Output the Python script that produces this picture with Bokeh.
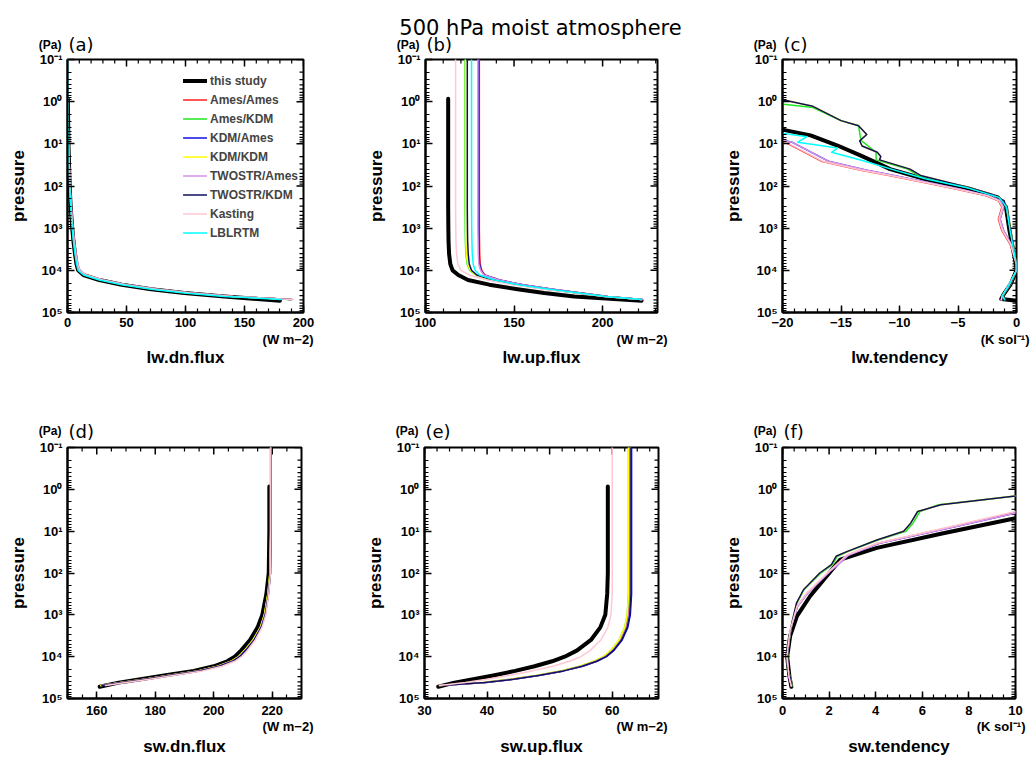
from bokeh.plotting import figure
from bokeh.layouts import column, row
from bokeh.models import (Range1d, FixedTicker, SingleIntervalTicker, Label, Legend, LegendItem)
from bokeh.embed import file_html
from bokeh.resources import INLINE

TITLE = "500 hPa moist atmosphere"
SERIES = ["this study", "Ames/Ames", "Ames/KDM", "KDM/Ames", "KDM/KDM",
          "TWOSTR/Ames", "TWOSTR/KDM", "Kasting", "LBLRTM"]
COLORS = ["#000000", "#ff2020", "#22e622", "#1010e0", "#ffff00",
          "#d890e8", "#101060", "#ffc8d2", "#00ffff"]
WIDTHS = [4.0, 1.5, 1.5, 1.5, 1.5, 1.5, 1.5, 1.5, 1.5]

Y_TICKS = [0.1, 1, 10, 100, 1000, 10000, 100000]
Y_TICK_LABELS = ["10\u207b\u00b9", "10\u2070", "10\u00b9", "10\u00b2", "10\u00b3", "10\u2074", "10\u2075"]

# log10 pressure (Pa) grids
LP_FLUX = [-1, 0, 1, 2, 2.5, 3, 3.3, 3.6, 3.85, 4.0, 4.11, 4.23, 4.34, 4.45, 4.54, 4.62, 4.69]
LP_FLUX_THIS = [-0.07, 1, 2, 2.5, 3, 3.3, 3.6, 3.85, 4.0, 4.11, 4.23, 4.34, 4.45, 4.54, 4.62, 4.72]

# (a) lw.dn.flux (W m-2)
LWDN_THIS = [0.3, 0.8, 1.8, 2.7, 4.0, 5.0, 6.3, 7.6, 9.0, 13.5, 27, 46, 71, 99, 133, 180]
LWDN_AA = [0.1, 0.3, 0.9, 2.0, 3.0, 4.3, 5.4, 6.8, 8.3, 10.0, 15.5, 29.5, 49, 75, 104, 140, 190]
LWDN_AK = [0.1, 0.3, 0.9, 2.0, 2.9, 4.2, 5.3, 6.7, 8.2, 9.8, 15.2, 29, 48.5, 74.5, 103.5, 139.5, 189]
LWDN_KA = [0.1, 0.3, 0.9, 2.0, 3.0, 4.3, 5.4, 6.8, 8.3, 10.0, 15.4, 29.3, 48.8, 74.8, 103.8, 139.8, 189.5]
LWDN_KK = [0.1, 0.3, 0.9, 2.0, 2.9, 4.2, 5.3, 6.7, 8.2, 9.8, 15.1, 28.9, 48.4, 74.4, 103.4, 139.4, 189]
LWDN_TA = [0.1, 0.3, 1.0, 2.2, 3.2, 4.6, 5.7, 7.2, 8.8, 10.5, 16, 30, 50, 76, 105, 141, 191]
LWDN_TK = [0.1, 0.3, 0.9, 2.0, 2.9, 4.2, 5.3, 6.7, 8.2, 9.8, 15.2, 29, 48.5, 74.5, 103.5, 139.5, 189]
LWDN_KAS = [0.1, 0.3, 0.9, 2.1, 3.1, 4.4, 5.5, 6.9, 8.4, 10.2, 15.8, 29.8, 49.5, 75.5, 104.5, 140.5, 190]
LWDN_LBL = [0.1, 0.3, 0.8, 1.8, 2.7, 4.0, 5.0, 6.3, 7.6, 9.0, 13.5, 27, 46, 71, 99, 133, 181]

# (b) lw.up.flux (W m-2)
LWUP_THIS = [112.8, 112.8, 112.8, 112.8, 112.9, 113.0, 113.3, 114.0, 115.3, 118.5, 124, 136, 152, 167, 184, 222]
LWUP_AA = [130.4, 130.4, 130.4, 130.4, 130.4, 130.4, 130.5, 130.6, 130.9, 131.8, 133.5, 142, 155, 172, 188, 203, 222.5]
LWUP_AK = [122.3, 122.3, 122.3, 122.3, 122.3, 122.4, 122.5, 122.8, 123.5, 125.0, 128.2, 137.5, 151, 168.8, 185.8, 201.3, 222]
LWUP_KA = [130.0, 130.0, 130.0, 130.0, 130.0, 130.0, 130.1, 130.2, 130.5, 131.4, 133.2, 141.8, 154.8, 171.8, 187.8, 202.8, 222.5]
LWUP_KK = [122.6, 122.6, 122.6, 122.6, 122.6, 122.7, 122.8, 123.1, 123.8, 125.3, 128.4, 137.6, 151.1, 168.9, 185.9, 201.4, 222]
LWUP_TA = [129.6, 129.6, 129.6, 129.6, 129.6, 129.6, 129.7, 129.8, 130.1, 131.1, 133.0, 141.6, 154.6, 171.6, 187.6, 202.6, 222.5]
LWUP_TK = [123.6, 123.6, 123.6, 123.6, 123.6, 123.7, 123.8, 124.1, 124.7, 126.0, 129.0, 138, 151.5, 169, 186, 201.5, 222]
LWUP_KAS = [117.0, 117.0, 117.0, 117.0, 117.0, 117.1, 117.2, 117.5, 118.3, 120.0, 124.5, 135, 149, 167, 185, 201, 222]
LWUP_LBL = [126.0, 126.0, 126.0, 126.0, 126.0, 126.1, 126.2, 126.4, 126.9, 128.0, 130.5, 139, 152.5, 170, 186.5, 202, 222]

# (c) lw.tendency (K sol-1)
LP_LWT_THIS = [-0.07, 0.55, 0.68, 0.8, 1.04, 1.28, 1.47, 1.6, 1.83, 2.05, 2.27, 2.5, 3.06, 3.86, 4.0, 4.33, 4.57, 4.68, 4.72]
LWT_THIS = [-30, -22, -19.7, -17.6, -15.3, -13.3, -11.8, -10.8, -7.9, -4.2, -1.6, -0.9, -0.6, -0.05, 0, -0.5, -1.1, -1.3, 0]
LP_LWT_TK = [-0.2, -0.03, 0.11, 0.45, 0.57, 0.78, 0.93, 1.05, 1.2, 1.3, 1.38, 1.6, 1.75, 2.03, 2.19, 2.35, 2.59, 3.06, 3.86, 4.0, 4.33, 4.57, 4.69]
LWT_TK = [-25, -19.7, -17.4, -15.0, -13.5, -12.8, -13.4, -13.2, -11.9, -11.6, -11.7, -9.1, -8.2, -4.2, -2.2, -1.06, -0.8, -0.5, 0, 0, -0.5, -1.1, -1.2]
LWT_KK = [-25, -19.7, -17.4, -15.0, -13.5, -12.8, -13.4, -13.2, -11.9, -11.6, -11.7, -9.1, -8.2, -4.2, -2.2, -1.06, -0.8, -0.5, 0, 0, -0.5, -1.1, -1.2]
LP_LWT_AK = [-0.1, 0.07, 0.14, 0.45, 0.57, 0.92, 1.2, 1.38, 1.6, 1.75, 2.03, 2.19, 2.35, 2.59, 3.06, 3.86, 4.0, 4.33, 4.57, 4.69]
LWT_AK = [-25, -19.7, -17.4, -15.0, -13.5, -13.3, -12.0, -12.0, -9.3, -8.4, -4.3, -2.3, -1.1, -0.8, -0.5, 0, 0, -0.5, -1.1, -1.2]
LP_LWT_LOW = [0.7, 0.85, 0.96, 1.42, 1.62, 1.75, 1.91, 2.07, 2.23, 2.35, 2.5, 2.79, 3.06, 3.38, 3.86, 4.0, 4.33, 4.6, 4.7]
LWT_KAS = [-25, -21.5, -19.7, -16.5, -13.3, -10.8, -7.9, -5.1, -2.5, -1.5, -1.2, -1.5, -1.2, -0.5, 0, 0, -0.6, -1.2, -1.3]
LWT_AA = [-25, -21.6, -19.8, -16.6, -13.4, -10.9, -8.0, -5.2, -2.6, -1.55, -1.25, -1.55, -1.25, -0.55, 0, 0, -0.6, -1.2, -1.3]
LWT_TA = [-25, -21.0, -19.2, -16.0, -12.9, -10.5, -7.7, -4.9, -2.4, -1.4, -1.1, -1.4, -1.1, -0.45, 0, 0, -0.6, -1.2, -1.3]
LWT_KA = [-25, -21.0, -19.2, -16.0, -12.9, -10.5, -7.7, -4.9, -2.4, -1.4, -1.1, -1.4, -1.1, -0.45, 0, 0, -0.6, -1.2, -1.3]
LP_LWT_LBL = [0.5, 0.75, 0.83, 0.96, 1.1, 1.2, 1.4, 1.6, 1.83, 2.05, 2.27, 2.5, 3.06, 3.86, 4.0, 4.33, 4.6, 4.7]
LWT_LBL = [-25, -20, -17.9, -18.7, -15.3, -15.8, -13.1, -10.7, -7.8, -4.1, -1.5, -0.85, -0.55, 0, 0, -0.6, -1.2, -1.0]

# (d) sw.dn.flux (W m-2)
SWDN_THIS = [219.0, 219.0, 218.8, 218.0, 216.6, 215.0, 212.4, 209.4, 207.2, 204.6, 200.0, 193.2, 183.0, 175.0, 167.5, 161.0]
SWDN_AA = [219.5, 219.5, 219.5, 219.3, 218.6, 217.4, 216.0, 213.5, 210.6, 208.5, 206.0, 201.4, 194.6, 184.3, 176.3, 168.3, 161.5]
SWDN_AK = [219.4, 219.4, 219.4, 219.2, 218.5, 217.3, 215.9, 213.4, 210.5, 208.4, 205.9, 201.3, 194.5, 184.2, 176.2, 168.2, 161.4]
SWDN_KA = [219.6, 219.6, 219.6, 219.4, 218.7, 217.6, 216.2, 213.8, 210.9, 208.8, 206.4, 201.8, 195.0, 184.7, 176.7, 168.7, 161.8]
SWDN_KK = [219.4, 219.4, 219.4, 219.2, 218.5, 217.3, 215.9, 213.4, 210.5, 208.4, 205.9, 201.3, 194.5, 184.2, 176.2, 168.2, 161.4]
SWDN_TA = [219.5, 219.5, 219.5, 219.3, 218.7, 217.5, 216.1, 213.7, 210.8, 208.7, 206.2, 201.6, 194.8, 184.5, 176.5, 168.5, 161.6]
SWDN_TK = [219.6, 219.6, 219.6, 219.4, 218.7, 217.6, 216.2, 213.8, 210.9, 208.8, 206.4, 201.8, 195.0, 184.7, 176.7, 168.7, 161.8]
SWDN_KAS = [219.5, 219.5, 219.5, 219.4, 218.8, 217.8, 216.5, 214.2, 211.5, 209.5, 207.2, 202.8, 196.2, 186.0, 178.0, 170.0, 163.0]

# (e) sw.up.flux (W m-2)
SWUP_THIS = [59.3, 59.3, 59.3, 59.2, 58.9, 58.1, 56.6, 54.4, 52.4, 50.4, 47.6, 44.5, 41.0, 37.8, 34.8, 32.2]
SWUP_AA = [62.8, 62.8, 62.8, 62.8, 62.8, 62.6, 62.2, 61.3, 60.0, 58.8, 57.3, 55.0, 52.0, 48.0, 44.0, 39.5, 32.5]
SWUP_AK = [62.6, 62.6, 62.6, 62.6, 62.6, 62.4, 62.0, 61.1, 59.8, 58.6, 57.1, 54.8, 51.8, 47.8, 43.8, 39.3, 32.4]
SWUP_KA = [63.1, 63.1, 63.1, 63.1, 63.1, 62.9, 62.5, 61.6, 60.3, 59.1, 57.6, 55.3, 52.3, 48.3, 44.3, 39.8, 32.6]
SWUP_KK = [62.6, 62.6, 62.6, 62.6, 62.6, 62.4, 62.0, 61.1, 59.8, 58.6, 57.1, 54.8, 51.8, 47.8, 43.8, 39.3, 32.4]
SWUP_TA = [62.9, 62.9, 62.9, 62.9, 62.9, 62.7, 62.3, 61.4, 60.1, 58.9, 57.4, 55.1, 52.1, 48.1, 44.1, 39.6, 32.5]
SWUP_TK = [63.0, 63.0, 63.0, 63.0, 63.0, 62.8, 62.4, 61.5, 60.2, 59.0, 57.5, 55.2, 52.2, 48.2, 44.2, 39.7, 32.5]
SWUP_KAS = [60.0, 60.0, 60.0, 60.0, 60.0, 59.8, 59.3, 58.2, 56.5, 55.0, 53.2, 50.5, 47.2, 43.5, 40.0, 36.5, 32.4]

# (f) sw.tendency (K sol-1)
LP_SWT_UP = [-0.2, 0.16, 0.37, 0.53, 0.81, 1.0, 1.21, 1.49, 1.6, 1.8, 2.0, 2.4, 2.72, 3.2, 3.67, 4.24, 4.48, 4.7]
SWT_TK = [14, 10, 6.8, 5.8, 5.5, 5.2, 4.05, 2.76, 2.3, 2.1, 1.6, 0.9, 0.6, 0.4, 0.26, 0.19, 0.33, 0.4]
SWT_KK = [14, 10, 6.8, 5.8, 5.5, 5.2, 4.05, 2.76, 2.3, 2.1, 1.6, 0.9, 0.6, 0.4, 0.26, 0.19, 0.33, 0.4]
SWT_AK = [14, 10, 6.7, 5.9, 5.6, 5.3, 4.1, 2.8, 2.35, 2.15, 1.65, 0.92, 0.62, 0.41, 0.27, 0.19, 0.33, 0.4]
LP_SWT_LOW = [0.3, 0.53, 0.93, 1.29, 1.57, 1.93, 2.48, 2.8, 3.36, 3.98, 4.48, 4.7]
SWT_KAS = [13, 10, 6.9, 4.05, 2.76, 2.05, 1.05, 0.62, 0.33, 0.19, 0.28, 0.38]
SWT_AA = [13, 10.1, 7.0, 4.1, 2.8, 2.08, 1.07, 0.63, 0.34, 0.19, 0.28, 0.38]
SWT_TA = [13.5, 10.3, 7.1, 4.15, 2.85, 2.1, 1.08, 0.64, 0.34, 0.19, 0.28, 0.38]
SWT_KA = [13.5, 10.3, 7.1, 4.15, 2.85, 2.1, 1.08, 0.64, 0.34, 0.19, 0.28, 0.38]
LP_SWT_THIS = [-0.07, 0.69, 1.05, 1.4, 1.68, 2.55, 3.03, 3.5, 4.0, 4.48, 4.72]
SWT_THIS = [20, 10, 6.9, 4.05, 2.48, 1.19, 0.62, 0.33, 0.2, 0.3, 0.38]

LABEL_FONT = "Liberation Sans"
Y_MINOR = [k * 10 ** e for e in range(-1, 5) for k in range(2, 10)]


def pa(lp):
    return [10 ** v for v in lp]


def style_axis(ax, standoff):
    ax.axis_line_width = 2
    ax.axis_line_color = "black"
    ax.major_tick_in = 7
    ax.major_tick_out = 0
    ax.minor_tick_in = 4
    ax.minor_tick_out = 0
    ax.major_tick_line_width = 1.5
    ax.minor_tick_line_width = 1.2
    ax.major_tick_line_color = "black"
    ax.minor_tick_line_color = "black"
    ax.major_label_text_font = LABEL_FONT
    ax.major_label_text_font_style = "bold"
    ax.major_label_text_font_size = "13px"
    ax.major_label_text_color = "black"
    ax.major_label_standoff = standoff


def side_label(p, side, text, x, y, size, font=LABEL_FONT, style="bold", align="left",
               baseline="middle"):
    p.add_layout(Label(x=x, y=y, x_units="screen", y_units="screen", text=text,
                       text_font=font, text_font_style=style, text_font_size=size,
                       text_align=align, text_baseline=baseline, text_color="black"), side)


def tick_positions(lo, hi, step):
    n0 = int(round(lo / step)) - 1
    n1 = int(round(hi / step)) + 1
    out = []
    for k in range(n0, n1 + 1):
        v = round(k * step, 6)
        if lo - 1e-9 <= v <= hi + 1e-9:
            out.append(v)
    return out


def make_panel(width, height, bl, br, bt, bb, xr, interval, nminor, letter, xlabel,
               unit, unit_dx, curves, row_index, xoverrides=None, legend=False, title=False):
    fw = width - bl - br
    p = figure(width=width, height=height, output_backend="svg", toolbar_location=None,
               y_axis_type="log", x_range=Range1d(*xr), y_range=Range1d(1e5, 1e-1),
               min_border_left=bl, min_border_right=br, min_border_top=bt,
               min_border_bottom=bb, title=None)
    p.outline_line_color = "black"
    p.outline_line_width = 2
    p.xgrid.visible = False
    p.ygrid.visible = False
    p.background_fill_color = "white"
    p.border_fill_color = "white"

    xa = p.xaxis[0]
    xa.ticker = SingleIntervalTicker(interval=interval, num_minor_ticks=nminor)
    style_axis(xa, 5 if row_index == 0 else 7)
    if xoverrides:
        xa.major_label_overrides = xoverrides
    ya = p.yaxis[0]
    ya.ticker = FixedTicker(ticks=Y_TICKS, minor_ticks=Y_MINOR)
    ya.major_label_overrides = dict(zip(Y_TICKS, Y_TICK_LABELS))
    style_axis(ya, 5)
    ya.axis_label = "pressure"
    ya.axis_label_text_font = LABEL_FONT
    ya.axis_label_text_font_style = "bold"
    ya.axis_label_text_font_size = "17px"
    ya.axis_label_text_color = "black"
    ya.axis_label_standoff = 9

    # mirrored tick marks on the top and right frame edges
    xmaj = tick_positions(xr[0], xr[1], interval)
    xmin = [v for v in tick_positions(xr[0], xr[1], interval / nminor) if v not in xmaj]
    p.ray(x=xmaj, y=[0.1] * len(xmaj), length=7, length_units="screen", angle=-1.5707963,
          line_color="black", line_width=1.5)
    p.ray(x=xmin, y=[0.1] * len(xmin), length=4, length_units="screen", angle=-1.5707963,
          line_color="black", line_width=1.2)
    p.ray(x=[xr[1]] * len(Y_TICKS), y=Y_TICKS, length=7, length_units="screen",
          angle=3.1415926, line_color="black", line_width=1.5)
    p.ray(x=[xr[1]] * len(Y_MINOR), y=Y_MINOR, length=4, length_units="screen",
          angle=3.1415926, line_color="black", line_width=1.2)

    renderers = []
    for idx, lp, xs in curves:
        r = p.line(xs, pa(lp), line_color=COLORS[idx], line_width=WIDTHS[idx],
                   line_join="round", line_cap="round")
        renderers.append((idx, r))

    if legend:
        items = [LegendItem(label=SERIES[i], renderers=[r]) for i, r in renderers]
        lg = Legend(items=items, location=(116, 70), border_line_alpha=0,
                    background_fill_alpha=0, padding=0, margin=0, spacing=0,
                    glyph_width=24, glyph_height=19, label_height=19, label_standoff=3,
                    label_text_font=LABEL_FONT, label_text_font_style="bold",
                    label_text_font_size="12px")
        p.add_layout(lg)

    # texts outside the frame live in side panels (stacked slots)
    if row_index == 0:
        side_label(p, "above", "(" + letter + ")", 1, 15, "18px", font="DejaVu Sans", style="normal")
        side_label(p, "above", "(Pa)", -6, -6, "12px", align="right")
        if title:
            side_label(p, "above", TITLE, 115, -3, "21px", font="DejaVu Sans", style="normal",
                       align="center", baseline="alphabetic")
        side_label(p, "below", unit, fw + unit_dx, 5, "13px", align="right")
        side_label(p, "below", xlabel, fw / 2, 6, "17px", align="center", baseline="alphabetic")
    else:
        side_label(p, "above", "(" + letter + ")", 1, 16, "18px", font="DejaVu Sans", style="normal")
        side_label(p, "above", "(Pa)", -6, -4, "12px", align="right")
        side_label(p, "below", unit, fw + unit_dx, 6, "13px", align="right")
        side_label(p, "below", xlabel, fw / 2, 5, "17px", align="center", baseline="alphabetic")
    return p


AA, AK, KA, KK, TA, TK, KAS, LBL = 1, 2, 3, 4, 5, 6, 7, 8
TH = 0

curves_a = [(TH, LP_FLUX_THIS, LWDN_THIS), (AA, LP_FLUX, LWDN_AA), (AK, LP_FLUX, LWDN_AK),
            (KA, LP_FLUX, LWDN_KA), (KK, LP_FLUX, LWDN_KK), (TA, LP_FLUX, LWDN_TA),
            (TK, LP_FLUX, LWDN_TK), (KAS, LP_FLUX, LWDN_KAS), (LBL, LP_FLUX, LWDN_LBL)]
curves_b = [(TH, LP_FLUX_THIS, LWUP_THIS), (AA, LP_FLUX, LWUP_AA), (AK, LP_FLUX, LWUP_AK),
            (KA, LP_FLUX, LWUP_KA), (KK, LP_FLUX, LWUP_KK), (TA, LP_FLUX, LWUP_TA),
            (TK, LP_FLUX, LWUP_TK), (KAS, LP_FLUX, LWUP_KAS), (LBL, LP_FLUX, LWUP_LBL)]
curves_c = [(TH, LP_LWT_THIS, LWT_THIS), (AA, LP_LWT_LOW, LWT_AA), (AK, LP_LWT_AK, LWT_AK),
            (KA, LP_LWT_LOW, LWT_KA), (KK, LP_LWT_TK, LWT_KK), (TA, LP_LWT_LOW, LWT_TA),
            (TK, LP_LWT_TK, LWT_TK), (KAS, LP_LWT_LOW, LWT_KAS), (LBL, LP_LWT_LBL, LWT_LBL)]
curves_d = [(TH, LP_FLUX_THIS, SWDN_THIS), (AA, LP_FLUX, SWDN_AA), (AK, LP_FLUX, SWDN_AK),
            (KA, LP_FLUX, SWDN_KA), (KK, LP_FLUX, SWDN_KK), (TA, LP_FLUX, SWDN_TA),
            (TK, LP_FLUX, SWDN_TK), (KAS, LP_FLUX, SWDN_KAS)]
curves_e = [(TH, LP_FLUX_THIS, SWUP_THIS), (AA, LP_FLUX, SWUP_AA), (AK, LP_FLUX, SWUP_AK),
            (KA, LP_FLUX, SWUP_KA), (KK, LP_FLUX, SWUP_KK), (TA, LP_FLUX, SWUP_TA),
            (TK, LP_FLUX, SWUP_TK), (KAS, LP_FLUX, SWUP_KAS)]
curves_f = [(TH, LP_SWT_THIS, SWT_THIS), (AA, LP_SWT_LOW, SWT_AA), (AK, LP_SWT_UP, SWT_AK),
            (KA, LP_SWT_LOW, SWT_KA), (KK, LP_SWT_UP, SWT_KK), (TA, LP_SWT_LOW, SWT_TA),
            (TK, LP_SWT_UP, SWT_TK), (KAS, LP_SWT_LOW, SWT_KAS)]

WM2 = "(W m\u22122)"
KSOL = "(K sol\u207b\u00b9)"
neg = {-20: "\u221220", -15: "\u221215", -10: "\u221210", -5: "\u22125"}

pa_ = make_panel(360, 385, 67, 57, 59, 73, (0, 200), 50, 5, "a", "lw.dn.flux", WM2, 10, curves_a, 0, legend=True)
pb = make_panel(355, 385, 65, 58, 59, 73, (100, 231), 50, 5, "b", "lw.up.flux", WM2, 10, curves_b, 0, title=True)
pc = make_panel(318, 385, 67, 17, 59, 73, (-20, 0), 5, 5, "c", "lw.tendency", KSOL, 13, curves_c, 0, xoverrides=neg)
pd = make_panel(360, 376, 67, 59, 62, 63, (150, 230), 20, 4, "d", "sw.dn.flux", WM2, 12, curves_d, 1)
pe = make_panel(355, 376, 64, 57, 62, 63, (30, 67.4), 10, 5, "e", "sw.up.flux", WM2, 9, curves_e, 1)
pf = make_panel(318, 376, 67, 18, 62, 63, (0, 10), 2, 4, "f", "sw.tendency", KSOL, 10, curves_f, 1)

layout = column(row(pa_, pb, pc), row(pd, pe, pf))
open("out.html", "w").write(file_html(layout, INLINE))
